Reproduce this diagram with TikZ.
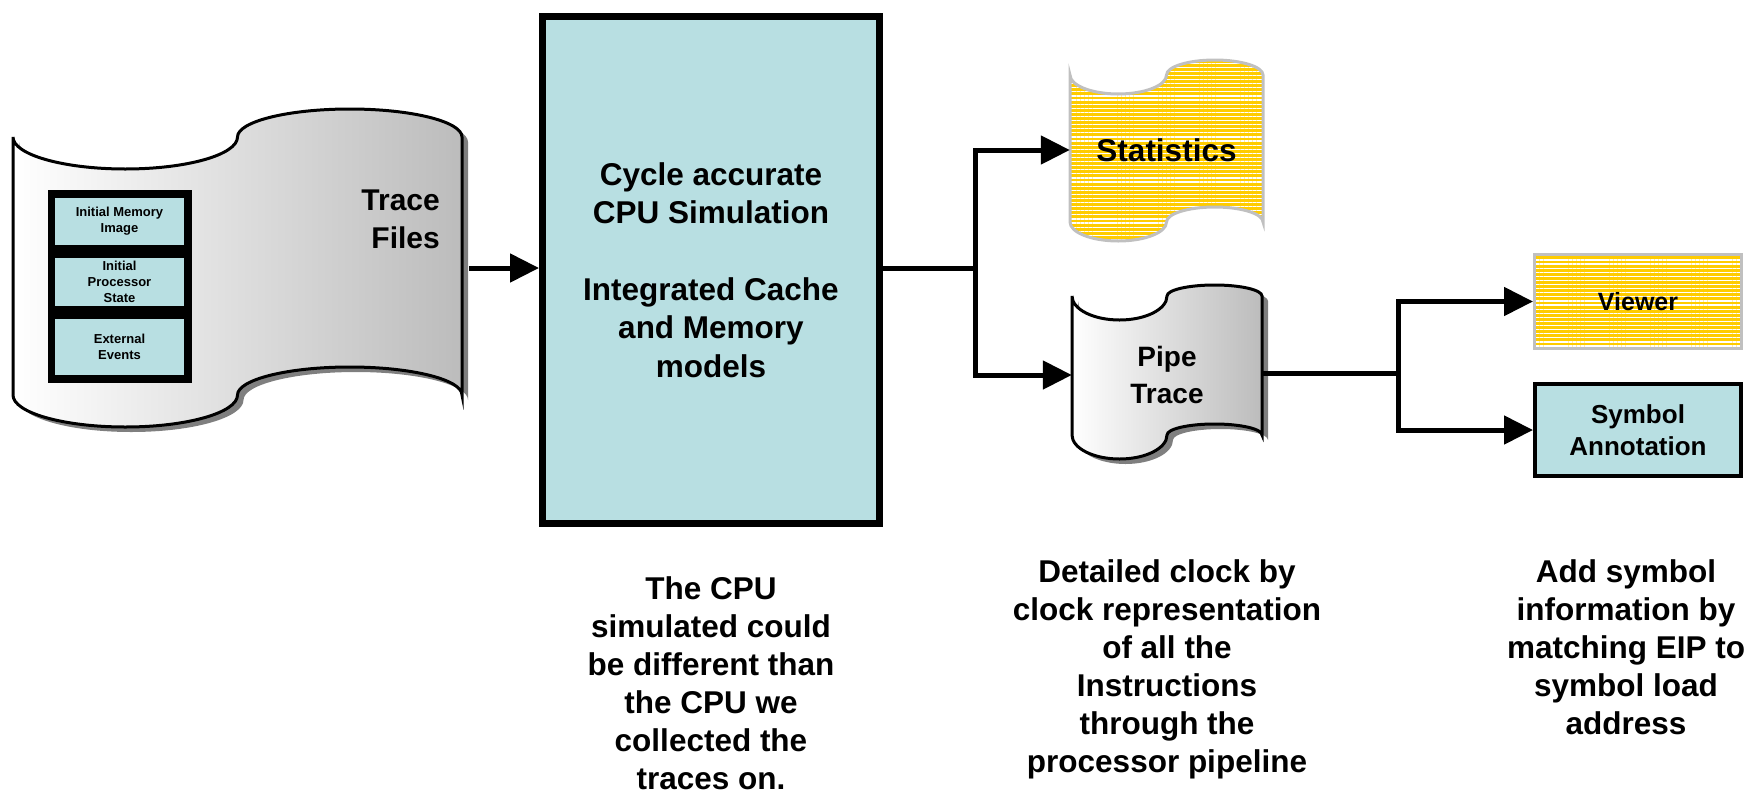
\documentclass[tikz,border=0pt]{standalone}
\usepackage{fontspec}
\setmainfont{Liberation Sans}
\usetikzlibrary{arrows.meta,positioning,patterns.meta}
\definecolor{cpucyan}{HTML}{B8DFE2}
\definecolor{tapegray}{HTML}{BCBCBC}
\definecolor{dropgray}{HTML}{7F7F7F}
\definecolor{statyellow}{HTML}{FFCC00}
\definecolor{rimgray}{HTML}{C0C0C0}
% wavy file outline, x runs 0..1, #1 height, #2 trough depth, #3 crest rise
\newcommand{\tapepath}[3]{%
  (0,0) .. controls (0,0.55*#2) and (0.112,#2) .. (0.25,#2)
  .. controls (0.388,#2) and (0.5,0.55*#2) .. (0.5,0)
  .. controls (0.5,-0.55*#3) and (0.612,-#3) .. (0.75,-#3)
  .. controls (0.888,-#3) and (1,-0.55*#3) .. (1,0)
  -- (1,#1)
  .. controls (1,#1-0.55*#3) and (0.888,#1-#3) .. (0.75,#1-#3)
  .. controls (0.612,#1-#3) and (0.5,#1-0.55*#3) .. (0.5,#1)
  .. controls (0.5,#1+0.55*#2) and (0.388,#1+#2) .. (0.25,#1+#2)
  .. controls (0.112,#1+#2) and (0,#1+0.55*#2) .. (0,#1) -- cycle}
\tikzset{
  tapeframe/.style={draw=none,inner sep=0pt,align=center},
  plainfile/.style={draw=black,line width=3pt,left color=white,right color=tapegray},
  stripes/.style  ={preaction={fill=statyellow},pattern={Lines[angle=0,distance=4.1pt,line width=1.2pt]},
                    pattern color=white,draw=rimgray,line width=3pt},
  cpubox/.style   ={draw=black,line width=7pt,fill=cpucyan,inner sep=0pt,align=center,
                    font=\fontsize{31.5}{38.4}\selectfont\bfseries},
  smallbox/.style ={fill=cpucyan,inner sep=0pt,minimum width=129pt,align=center,
                    font=\fontsize{13}{16}\selectfont\bfseries},
  symbox/.style   ={draw=black,line width=4pt,fill=cpucyan,inner sep=0pt,align=center,
                    font=\fontsize{26}{32}\selectfont\bfseries},
  note/.style     ={inner sep=0pt,align=center,font=\fontsize{31.5}{38.1}\selectfont\bfseries},
  wire/.style     ={line width=5pt,draw=black},
  flow/.style     ={wire,-{Triangle[length=29pt,width=28pt]}}
}
\begin{document}
\begin{tikzpicture}[x=1pt,y=-1pt]
  \useasboundingbox (0,0) rectangle (1758,793);
  % trace files
  \fill[dropgray,shift={(19,142)},xscale=449] \tapepath{258}{32}{28};
  \draw[plainfile,shift={(13,137)},xscale=449] \tapepath{258}{32}{28};
  \node[tapeframe,minimum width=456pt,minimum height=258pt] (trace) at (241,268) {};
  \node[fill=black,inner sep=0pt,minimum width=144pt,minimum height=193pt] (stateframe) at (120,286.5) {};
  \node[smallbox,minimum height=47pt] (memimg) at (119.5,221.5) {Initial Memory\\Image};
  \node[smallbox,minimum height=48pt] (procstate) at (119.5,282) {Initial\\Processor\\State};
  \node[smallbox,minimum height=56pt] (extevents) at (119.5,347) {External\\Events};
  \node[note,anchor=north east,align=right,font=\fontsize{30}{38}\selectfont\bfseries] (tracelbl) at (440,190) {Trace\\Files};

  % simulator
  \node[cpubox,minimum width=337pt,minimum height=507pt] (cpu) at (711,270)
    {Cycle accurate\\CPU Simulation\\[38.4pt]Integrated Cache\\and Memory\\models};

  % outputs
  \path[stripes,shift={(1070,75)},xscale=193] \tapepath{147}{19}{15};
  \node[tapeframe,minimum width=193pt,minimum height=147pt,font=\fontsize{31.5}{38}\selectfont\bfseries] (stats) at (1166.5,150) {Statistics};
  \fill[dropgray,shift={(1078,301)},xscale=190] \tapepath{139}{24}{11};
  \draw[plainfile,shift={(1072,296)},xscale=190] \tapepath{139}{24}{11};
  \node[tapeframe,minimum width=190pt,minimum height=139pt,font=\fontsize{28}{37}\selectfont\bfseries] (pipe) at (1167,375) {Pipe\\Trace};
  \node[stripes,inner sep=0pt,minimum width=207pt,minimum height=94pt,font=\fontsize{25}{30}\selectfont\bfseries] (viewer) at (1638,301.5) {Viewer};
  \node[symbox,minimum width=206pt,minimum height=92pt] (symbol) at (1638,430) {Symbol\\Annotation};

  % notes
  \node[note,below=49pt of cpu] (cpunote) {The CPU\\simulated could\\be different than\\the CPU we\\collected the\\traces on.};
  \node[note,below=114.5pt of pipe] (pipenote) {Detailed clock by\\clock representation\\of all the\\Instructions\\through the\\processor pipeline};
  \node[note,below=81pt of symbol,xshift=-12pt] (symnote) {Add symbol\\information by\\matching EIP to\\symbol load\\address};

  % connectors
  \coordinate (split1) at (975,268);
  \coordinate (split2) at (1398,373);
  \draw[flow] (trace.east |- split1) -- (cpu.west |- split1);
  \draw[wire] (cpu.east |- split1) -- (split1);
  \draw[flow] (split1) |- (stats.west);
  \draw[flow] (split1) |- (pipe.west);
  \draw[wire] (pipe.east |- split2) -- (split2);
  \draw[flow] (split2) |- (viewer.west);
  \draw[flow] (split2) |- (symbol.west);
\end{tikzpicture}
\end{document}
